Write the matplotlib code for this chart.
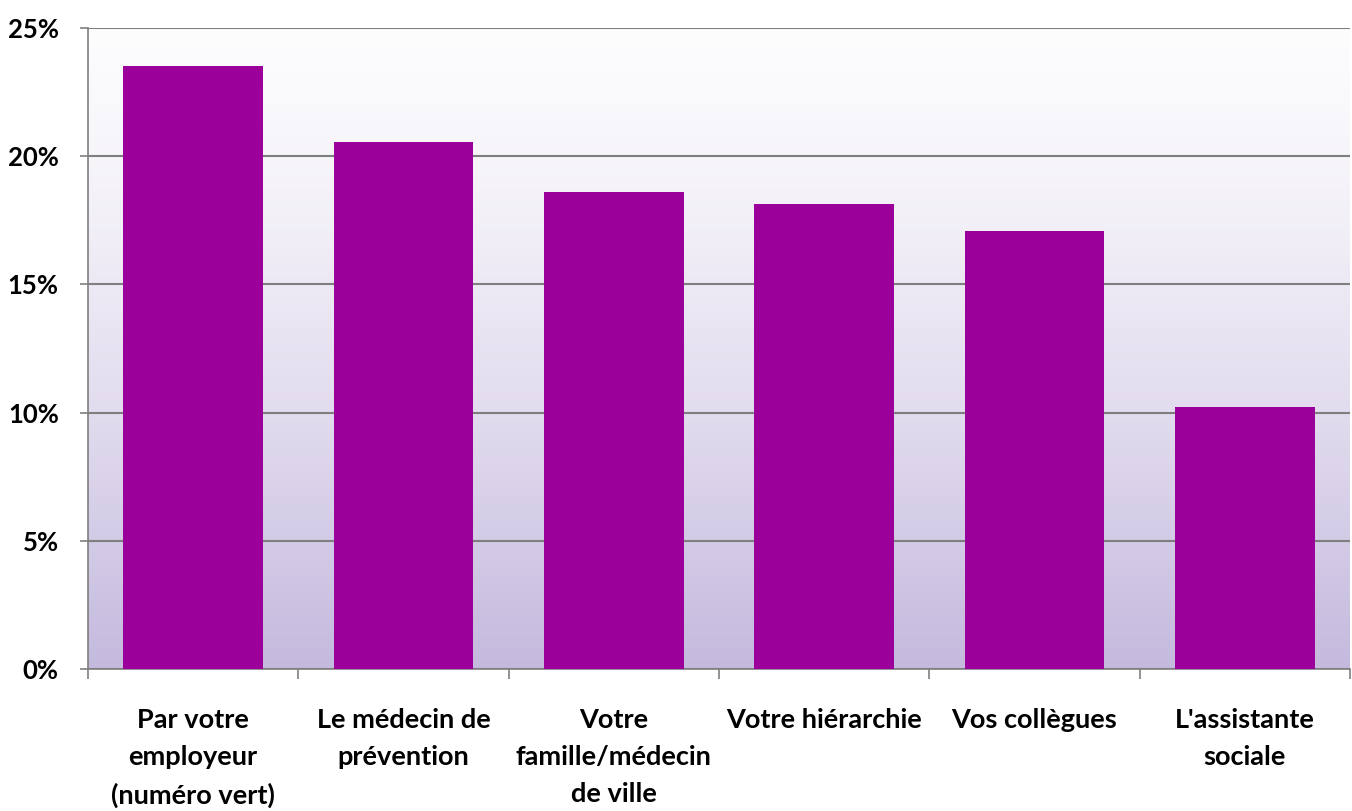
import matplotlib
matplotlib.use("Agg")
import matplotlib.pyplot as plt
import numpy as np
from matplotlib.colors import LinearSegmentedColormap
from matplotlib.ticker import FuncFormatter, MultipleLocator

categories = ["Par votre\nemployeur\n(numéro vert)", "Le médecin de\nprévention",
              "Votre\nfamille/médecin\nde ville", "Votre hiérarchie", "Vos collègues",
              "L'assistante\nsociale"]
values = [23.5, 20.55, 18.6, 18.15, 17.1, 10.2]

plt.rcParams['font.family'] = ['Lato', 'DejaVu Sans']
plt.rcParams['font.weight'] = 'bold'

fig = plt.figure(figsize=(13.52, 8.11), dpi=100)
ax = fig.add_axes([88/1352, 1-669/811, (1350-88)/1352, (669-28)/811])

x = np.arange(len(categories))
ax.set_xlim(-0.5, len(categories)-0.5)
ax.set_ylim(0, 25)

# background gradient
cmap = LinearSegmentedColormap.from_list("bg", [(0, "#C4BADE"), (0.4, "#E2DCEE"), (0.75, "#F5F3F9"), (1, "#FDFDFE")])
grad = np.linspace(0, 1, 256).reshape(-1, 1)
ax.imshow(grad, extent=[-0.5, len(categories)-0.5, 0, 25], origin='lower', aspect='auto',
          cmap=cmap, zorder=0)

ax.yaxis.set_major_locator(MultipleLocator(5))
ax.grid(axis='y', color='#7F7F7F', linewidth=1.5, zorder=1)
ax.set_axisbelow(True)

ax.bar(x, values, width=0.665, color='#9B009B', zorder=3)

ax.yaxis.set_major_formatter(FuncFormatter(lambda v, p: f"{int(v)}%"))
ax.set_xticks(np.arange(-0.5, len(categories)+0.5, 1), minor=False)
ax.set_xticklabels([])
ax.set_xticks(x, minor=True)
ax.set_xticklabels(categories, minor=True, fontsize=19.5, fontweight='bold', linespacing=1.65, va='top')
ax.tick_params(axis='x', which='minor', length=0, pad=28)
ax.tick_params(axis='x', which='major', length=7, color='#7F7F7F', width=1.2)
ax.tick_params(axis='y', length=6, color='#7F7F7F', width=1.2, labelsize=18.5, pad=15)
for lab in ax.get_yticklabels():
    lab.set_fontweight('bold')

for s in ['top', 'right']:
    ax.spines[s].set_visible(False)
for s in ['left', 'bottom']:
    ax.spines[s].set_color('#7F7F7F')
    ax.spines[s].set_linewidth(1.2)

fig.savefig("out.png", dpi=100, facecolor='white')
